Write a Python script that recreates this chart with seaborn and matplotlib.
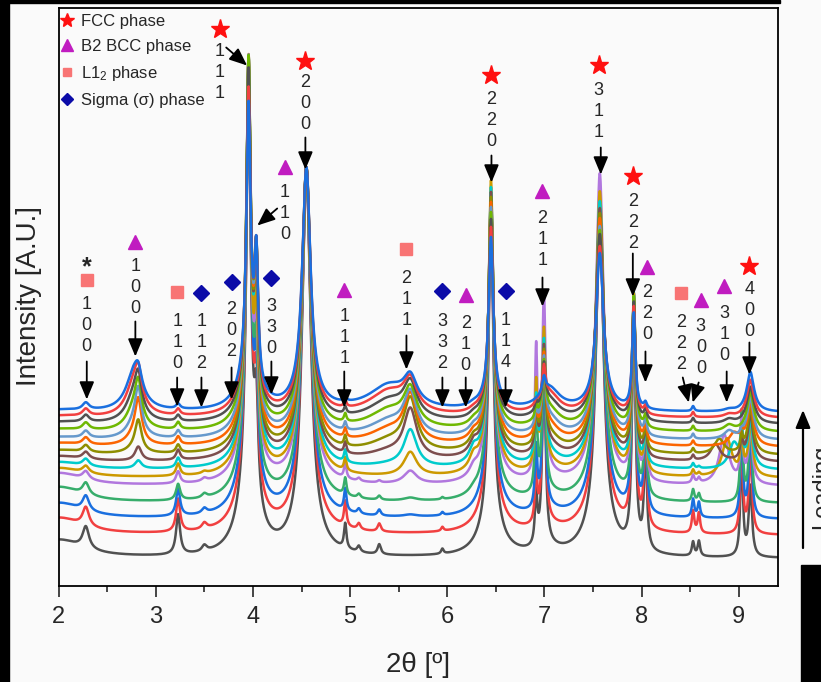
import numpy as np
import pandas as pd
import matplotlib
matplotlib.use("Agg")
import matplotlib.pyplot as plt
from matplotlib.lines import Line2D
from matplotlib.patches import Rectangle
import seaborn as sns

# 15 stacked scans, first = bottom (unloaded), last = top (highest load)
scan_colors = ['#515151', '#F14040', '#1A6FDF', '#37AD6B', '#B177DE', '#CC9900',
               '#00CBCC', '#7D4E4E', '#8E8E00', '#FB6501', '#6699CC', '#6FB802',
               '#515151', '#F14040', '#1A6FDF']
scan_offsets = [27, 50, 66, 82, 99, 107, 115, 123, 130, 138, 145, 153, 161, 167, 173]

# peak heights read per scan (bottom -> top)
h_low_angle = [18, 17, 16, 16, 13, 10, 8, 6, 5, 4, 3, 3, 2, 2, 2]
h_l12_100 = [22, 19, 15, 12, 8, 7, 7, 7, 7, 7, 7, 7, 7, 7, 7]
h_b2_100a = [0, 0, 0, 0, 0, 0, 8, 14, 30, 40, 40, 35, 30, 25, 15]
h_b2_100b = [0, 0, 0, 0, 0, 0, 0, 0, 5, 10, 15, 22, 28, 35, 40]
h_l12_110 = [40, 33, 27, 16, 12, 12, 10, 10, 8, 8, 7, 7, 6, 6, 5]
h_s_112 = [6, 6, 5, 4, 3, 2, 0, 0, 0, 0, 0, 0, 0, 0, 0]
h_fcc_111 = [392, 377, 366, 357, 345, 343, 340, 334, 330, 328, 323, 315, 297, 272, 252]
h_fcc_111_base = [93, 85, 80, 75, 70, 65, 60, 58, 55, 52, 50, 50, 48, 48, 48]
h_b2_110 = [90, 90, 95, 100, 110, 120, 160, 154, 150, 144, 140, 133, 128, 125, 121]
h_fcc_200 = [347, 326, 312, 298, 283, 277, 271, 265, 260, 254, 249, 243, 237, 232, 227]
h_fcc_200_base = [40, 38, 36, 34, 32, 30, 28, 26, 24, 22, 20, 18, 16, 15, 14]
h_b2_111 = [25, 25, 22, 17, 15, 13, 12, 11, 10, 9, 8, 8, 7, 7, 6]
h_509 = [6, 6, 5, 4, 3, 0, 0, 0, 0, 0, 0, 0, 0, 0, 0]
h_530 = [10, 8, 6, 4, 2, 0, 0, 0, 0, 0, 0, 0, 0, 0, 0]
h_l12_211 = [0, 0, 2, 3, 13, 24, 37, 48, 50, 45, 40, 35, 32, 28, 25]
h_l12_211_broad = [0, 0, 0, 0, 0, 0, 3, 8, 12, 15, 17, 20, 22, 25, 25]
h_s_332 = [5, 4, 3, 2, 0, 0, 0, 0, 0, 0, 0, 0, 0, 0, 0]
h_b2_210 = [0, 0, 0, 3, 8, 12, 12, 10, 8, 6, 5, 4, 3, 2, 2]
h_fcc_220 = [313, 297, 283, 274, 264, 265, 252, 241, 231, 220, 210, 199, 186, 173, 158]
h_fcc_220_base = [40, 38, 36, 34, 32, 30, 28, 26, 24, 22, 20, 18, 16, 15, 14]
h_b2_211 = [190, 165, 144, 143, 179, 135, 115, 100, 87, 75, 64, 52, 41, 32, 15]
h_b2_211b = [50, 50, 60, 90, 125, 83, 60, 45, 35, 25, 18, 12, 8, 5, 0]
h_b2_211_broad = [5, 5, 5, 6, 8, 10, 12, 14, 16, 18, 19, 20, 21, 22, 22]
h_fcc_311 = [308, 282, 263, 264, 284, 260, 244, 231, 221, 210, 197, 187, 176, 159, 147]
h_fcc_311_base = [35, 33, 31, 29, 27, 25, 23, 21, 19, 17, 15, 13, 12, 11, 10]
h_fcc_222 = [250, 230, 215, 200, 180, 175, 165, 155, 148, 142, 135, 130, 117, 107, 95]
h_b2_220 = [100, 95, 90, 75, 55, 42, 33, 27, 22, 18, 15, 12, 10, 8, 6]
h_l12_222 = [14, 22, 18, 12, 8, 6, 5, 5, 5, 5, 5, 5, 5, 5, 5]
h_b2_300 = [15, 20, 15, 8, 5, 3, 2, 0, 0, 0, 0, 0, 0, 0, 0]
c_b2_310 = [8.9, 8.9, 8.9, 8.9, 8.85, 8.88, 8.95, 8.76, 8.8, 8.95, 8.9, 8.9, 8.9, 8.9, 8.9]
h_b2_310 = [0, 0, 0, 0, 50, 38, 25, 17, 15, 12, 8, 6, 4, 3, 2]
h_903 = [110, 100, 95, 90, 60, 40, 30, 20, 15, 10, 5, 0, 0, 0, 0]
h_fcc_400 = [70, 80, 85, 80, 50, 40, 30, 25, 20, 15, 10, 8, 5, 5, 5]
h_fcc_400_broad = [0, 0, 0, 0, 10, 15, 20, 25, 28, 30, 32, 32, 32, 33, 35]

# (centre 2theta, half width, heights)
peaks = [
    (2.00, 0.30, h_low_angle), (2.28, 0.04, h_l12_100),
    (2.82, 0.04, h_b2_100a), (2.78, 0.10, h_b2_100b),
    (3.23, 0.025, h_l12_110), (3.50, 0.03, h_s_112),
    (3.955, 0.025, h_fcc_111), (3.955, 0.10, h_fcc_111_base),
    (4.035, 0.022, h_b2_110), (4.55, 0.05, h_fcc_200), (4.55, 0.12, h_fcc_200_base),
    (4.95, 0.015, h_b2_111), (5.09, 0.02, h_509), (5.30, 0.02, h_530),
    (5.62, 0.08, h_l12_211), (5.40, 0.25, h_l12_211_broad),
    (5.95, 0.015, h_s_332), (6.27, 0.05, h_b2_210),
    (6.45, 0.028, h_fcc_220), (6.45, 0.12, h_fcc_220_base),
    (6.995, 0.02, h_b2_211), (6.915, 0.015, h_b2_211b), (7.05, 0.13, h_b2_211_broad),
    (7.57, 0.045, h_fcc_311), (7.57, 0.15, h_fcc_311_base),
    (7.92, 0.02, h_fcc_222), (8.04, 0.018, h_b2_220),
    (8.53, 0.015, h_l12_222), (8.59, 0.015, h_b2_300),
    (c_b2_310, 0.06, h_b2_310), (9.03, 0.015, h_903),
    (9.12, 0.02, h_fcc_400), (9.12, 0.05, h_fcc_400_broad),
]

two_theta = np.arange(2.0, 9.401, 0.002)
frames = []
for i, off in enumerate(scan_offsets):
    y = np.full_like(two_theta, off, dtype=float)
    for c, w, h in peaks:
        cc = c[i] if isinstance(c, list) else c
        y += h[i] * w ** 2 / ((two_theta - cc) ** 2 + w ** 2)
    frames.append(pd.DataFrame({'two_theta': two_theta, 'intensity': y, 'scan': i}))
df = pd.concat(frames, ignore_index=True)

phase_style = {
    'fcc': ('*', '#ff1010', 14),
    'b2': ('^', '#c01cc0', 10),
    'l12': ('s', '#f87474', 8),
    'sigma': ('D', '#0b0ba8', 8),
}

# phase, hkl, text x, marker y, text y, arrow tail, arrow head
annotations = [
    ('l12', '100', 2.29, 306, 260, (2.29, 224), (2.29, 186)),
    ('b2', '100', 2.79, 344, 298, (2.79, 264), (2.79, 229)),
    ('l12', '110', 3.22, 294, 243, (3.22, 208), (3.22, 179)),
    ('sigma', '112', 3.47, 293, 243, (3.47, 208), (3.47, 178)),
    ('sigma', '202', 3.78, 304, 255, (3.78, 218), (3.78, 186)),
    ('fcc', '111', 3.66, 557, 513, (3.725, 538), (3.94, 520)),
    ('b2', '110', 4.33, 419, 372, (4.25, 377), (4.045, 360)),
    ('sigma', '330', 4.19, 308, 258, (4.19, 224), (4.19, 191)),
    ('fcc', '200', 4.54, 525, 482, (4.54, 448), (4.54, 416)),
    ('b2', '111', 4.94, 296, 248, (4.94, 214), (4.94, 178)),
    ('l12', '211', 5.58, 337, 286, (5.58, 250), (5.58, 216)),
    ('sigma', '332', 5.95, 295, 243, (5.95, 208), (5.95, 178)),
    ('b2', '210', 6.19, 291, 241, (6.19, 208), (6.19, 178)),
    ('fcc', '220', 6.455, 511, 465, (6.455, 430), (6.455, 403)),
    ('sigma', '114', 6.60, 295, 244, (6.60, 208), (6.60, 178)),
    ('b2', '211', 6.98, 395, 346, (6.98, 308), (6.98, 279)),
    ('fcc', '311', 7.56, 521, 474, (7.58, 438), (7.58, 411)),
    ('fcc', '222', 7.91, 410, 363, (7.91, 332), (7.91, 289)),
    ('b2', '220', 8.06, 319, 272, (8.04, 234), (8.04, 203)),
    ('l12', '222', 8.41, 293, 242, (8.424, 208), (8.486, 183)),
    ('b2', '300', 8.61, 286, 238, (8.588, 203), (8.526, 183)),
    ('b2', '310', 8.85, 300, 251, (8.876, 214), (8.876, 183)),
    ('fcc', '400', 9.11, 320, 275, (9.11, 243), (9.11, 211)),
]

sns.set_style('ticks')
plt.rcParams['font.family'] = ['Liberation Sans', 'DejaVu Sans']
plt.rcParams['mathtext.fontset'] = 'custom'
plt.rcParams['mathtext.rm'] = 'Liberation Sans'
plt.rcParams['mathtext.it'] = 'Liberation Sans:italic'

bg = '#fafafa'
fig = plt.figure(figsize=(8.21, 6.82), dpi=100, facecolor=bg)
ax = fig.add_axes([58.6 / 821, 96.5 / 682, 719 / 821, 578 / 682], facecolor=bg)

for i in range(len(scan_offsets)):
    sns.lineplot(data=df[df['scan'] == i], x='two_theta', y='intensity',
                 color=scan_colors[i], linewidth=1.8, estimator=None, sort=False, ax=ax)

for phase, hkl, x, y_mark, y_text, tail, head in annotations:
    m, col, ms = phase_style[phase]
    ax.plot(x, y_mark, marker=m, color=col, markersize=ms, linestyle='none')
    ax.text(x, y_text, '\n'.join(hkl), ha='center', va='center', fontsize=13, linespacing=1.27)
    ax.annotate('', xy=head, xytext=tail,
                arrowprops=dict(arrowstyle='-|>,head_length=0.6,head_width=0.25',
                                color='black', lw=1.3, shrinkA=0, shrinkB=0, mutation_scale=18))
ax.text(2.29, 318, '*', ha='center', va='center', fontsize=18, fontweight='bold')

ax.set_xlim(2, 9.4)
ax.set_ylim(0, 578)
ax.set_xticks(range(2, 10))
ax.set_xticks(np.arange(2.5, 9.4, 1.0), minor=True)
ax.set_yticks([])
ax.tick_params(axis='x', which='major', length=8, width=1.2, direction='out', labelsize=17, pad=7)
ax.tick_params(axis='x', which='minor', length=4.5, width=1.2, direction='out')
for s in ax.spines.values():
    s.set_visible(True)
    s.set_linewidth(1.3)
    s.set_color('black')
ax.set_xlabel('2θ [º]', fontsize=20, labelpad=17)
ax.set_ylabel('Intensity [A.U.]', fontsize=20, labelpad=12)

handles = [Line2D([], [], marker=phase_style[k][0], color=phase_style[k][1], linestyle='none',
                  markersize=s) for k, s in [('fcc', 10), ('b2', 8), ('l12', 6), ('sigma', 6)]]
ax.legend(handles, ['FCC phase', 'B2 BCC phase', 'L1$_2$ phase', 'Sigma (σ) phase'],
          loc='upper left', bbox_to_anchor=(-0.007, 1), frameon=False, fontsize=12,
          handlelength=0.8, handletextpad=0.45, labelspacing=0.6, borderpad=0.38, borderaxespad=0)

# loading direction
ax.annotate('', xy=(803 / 821, 1 - 410 / 682), xytext=(803 / 821, 1 - 548 / 682),
            xycoords='figure fraction', textcoords='figure fraction', annotation_clip=False,
            arrowprops=dict(arrowstyle='-|>,head_length=0.6,head_width=0.25', color='black',
                            lw=1.6, shrinkA=0, shrinkB=0, mutation_scale=18))
fig.text(811 / 821, 1 - 487 / 682, 'Loading', rotation=90, ha='left', va='center', fontsize=17)

# dark screenshot edges
fig.add_artist(Rectangle((0, 0), 9 / 821, 1, transform=fig.transFigure, color='black', zorder=10))
fig.add_artist(Rectangle((0, 1 - 3 / 682), 780 / 821, 3 / 682, transform=fig.transFigure,
                         color='black', zorder=10))
fig.add_artist(Rectangle((801 / 821, 0), 20 / 821, 117 / 682, transform=fig.transFigure,
                         color='black', zorder=10))

fig.savefig('out.png', dpi=100, facecolor=bg)
